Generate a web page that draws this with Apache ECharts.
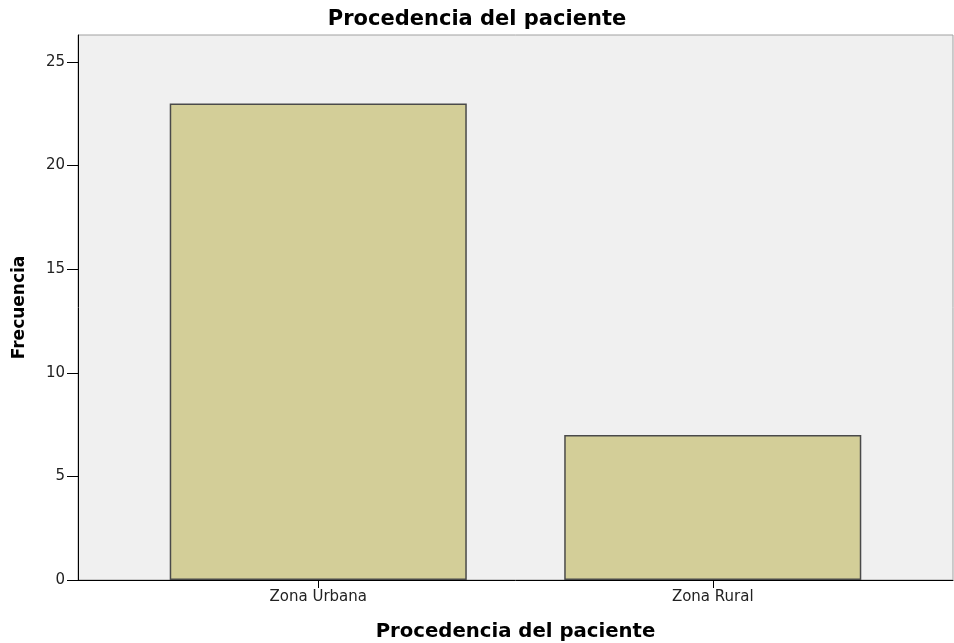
<!DOCTYPE html>
<html>
<head>
<meta charset="utf-8">
<script src="https://cdn.jsdelivr.net/npm/echarts@6/dist/echarts.min.js"></script>
<style>
  html, body { margin: 0; padding: 0; background: #fff; }
  #chart { width: 954px; height: 643px; }
</style>
</head>
<body>
<div id="chart"></div>
<script>
    var categorias = ['Zona Urbana', 'Zona Rural'];
    var frecuencias = [23, 7];
    var marcasY = [0, 5, 10, 15, 20, 25];
    var maxY = 26.3;

    var dom = document.getElementById('chart');
    var myChart = echarts.init(dom, null, { renderer: 'canvas' });

    var option = {
        animation: false,
        title: {
            text: 'Procedencia del paciente',
            left: 'center',
            top: 4,
            textStyle: { fontFamily: 'DejaVu Sans', fontWeight: 'bold', fontSize: 21, color: '#000' }
        },
        grid: [
            // marco con fondo gris
            { left: 78, right: 1, top: 35, bottom: 63, outerBoundsMode: 'none', show: true, backgroundColor: '#f0f0f0', borderColor: '#a0a0a0', borderWidth: 1 },
            // zona de las barras
            { left: 121, right: 44, top: 35, bottom: 63, outerBoundsMode: 'none' }
        ],
        xAxis: [
            {
                type: 'value', gridIndex: 0, min: 0, max: 1,
                axisLine: { show: true, lineStyle: { color: '#000', width: 1 } },
                axisTick: { show: false }, axisLabel: { show: false }, splitLine: { show: false }
            },
            {
                type: 'category', gridIndex: 1, data: categorias,
                axisLine: { show: false },
                axisTick: { show: true, alignWithLabel: true, length: 8, lineStyle: { color: '#000' } },
                axisLabel: { margin: 10, fontFamily: 'DejaVu Sans', fontSize: 15, color: '#222' },
                name: 'Procedencia del paciente',
                nameLocation: 'middle',
                nameGap: 42,
                nameTextStyle: { fontFamily: 'DejaVu Sans', fontWeight: 'bold', fontSize: 19.7, color: '#000' }
            }
        ],
        yAxis: [
            {
                type: 'value', gridIndex: 0, min: 0, max: maxY, interval: 5,
                axisLine: { show: true, lineStyle: { color: '#000', width: 1 } },
                axisTick: { show: true, length: 11, customValues: marcasY, lineStyle: { color: '#000' } },
                axisLabel: { margin: 13, customValues: marcasY, fontFamily: 'DejaVu Sans', fontSize: 15, color: '#222' },
                splitLine: { show: false },
                name: 'Frecuencia',
                nameLocation: 'middle',
                nameGap: 50,
                nameTextStyle: { fontFamily: 'DejaVu Sans', fontWeight: 'bold', fontSize: 17, color: '#000' }
            },
            {
                type: 'value', gridIndex: 1, min: 0, max: maxY, show: false
            }
        ],
        series: [{
            type: 'bar',
            xAxisIndex: 1,
            yAxisIndex: 1,
            data: frecuencias,
            barWidth: '75.3%',
            itemStyle: { color: '#d3ce98', borderColor: '#4a4a4a', borderWidth: 1.5 }
        }]
    };

    option && myChart.setOption(option);
</script>
</body>
</html>
